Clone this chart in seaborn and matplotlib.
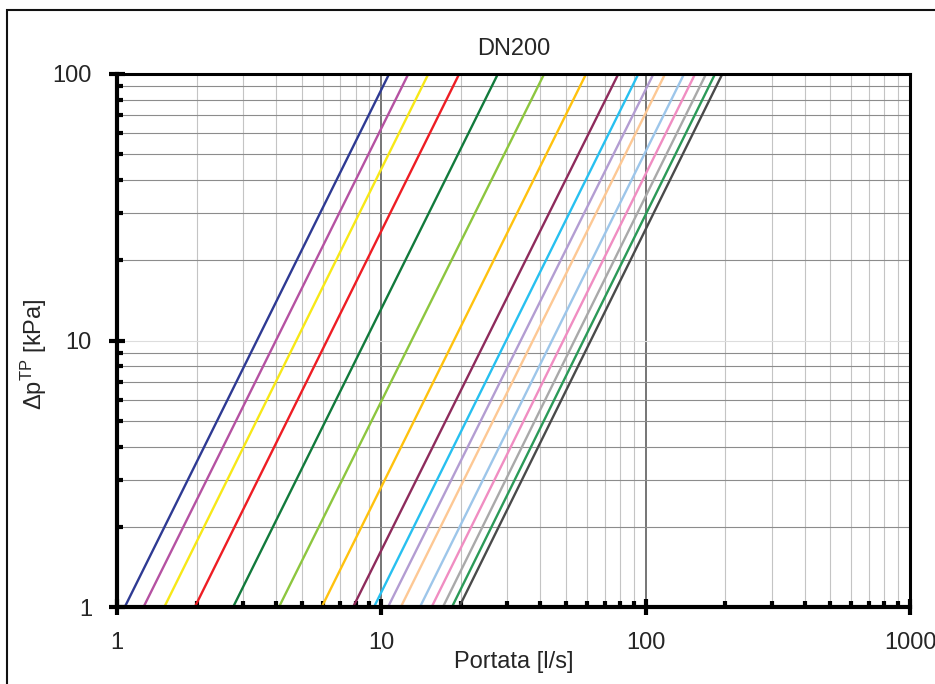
"""
Curve perdita di carico DN200 (Δp vs portata, scala log-log)
"""

import numpy as np
import pandas as pd
import seaborn as sns
import matplotlib.pyplot as plt
from matplotlib.ticker import LogLocator, FuncFormatter, NullFormatter
from matplotlib.patches import Rectangle

# ── DATI ──
# portata [l/s] a Δp = 1 kPa e a Δp = 100 kPa, una curva per ogni posizione
portata_1kpa = [1.07, 1.26, 1.51, 1.97, 2.75, 4.10, 5.95, 7.82,
                9.38, 10.6, 11.85, 14.0, 15.5, 17.1, 18.5, 19.7]
portata_100kpa = [10.7, 12.65, 15.06, 19.7, 27.6, 41.3, 59.5, 78.8,
                  93.8, 107.0, 118.4, 139.7, 153.8, 169.2, 183.0, 195.0]
dp_estremi = [1, 100]

colori = ["#2E3A93", "#B552A2", "#F7E817", "#EE1D24", "#127A3C", "#8DC63F",
          "#FFC20E", "#8E2B5C", "#27C0F0", "#B39DD2", "#FDC894", "#9DC6EA",
          "#F08DC2", "#A9A9A9", "#2B9A58", "#4A4A4A"]

x_ticks = [1, 10, 100, 1000]
y_ticks = [1, 10, 100]

righe = []
for i, (q1, q100) in enumerate(zip(portata_1kpa, portata_100kpa)):
    for q, dp in zip([q1, q100], dp_estremi):
        righe.append({"curva": i, "portata": q, "dp": dp})
df = pd.DataFrame(righe)

# ── STILE ──
sns.set_style("white")
plt.rcParams["font.family"] = ["Liberation Sans", "DejaVu Sans"]
plt.rcParams["mathtext.default"] = "regular"
FS = 17

fig = plt.figure(figsize=(9.35, 6.84), dpi=100)
ax = fig.add_axes([117 / 935, 1 - 607 / 684, 793 / 935, 533 / 684])

ax.set_xscale("log")
ax.set_yscale("log")

sns.lineplot(data=df, x="portata", y="dp", hue="curva", palette=colori,
             legend=False, lw=1.7, estimator=None, sort=False, ax=ax, zorder=3)

ax.set_xlim(x_ticks[0], x_ticks[-1])
ax.set_ylim(y_ticks[0], y_ticks[-1])

ax.xaxis.set_major_locator(LogLocator(base=10))
ax.yaxis.set_major_locator(LogLocator(base=10))
ax.xaxis.set_minor_locator(LogLocator(base=10, subs=np.arange(2, 10)))
ax.yaxis.set_minor_locator(LogLocator(base=10, subs=np.arange(2, 10)))
fmt = FuncFormatter(lambda v, p: f"{v:g}")
ax.xaxis.set_major_formatter(fmt)
ax.yaxis.set_major_formatter(fmt)
ax.xaxis.set_minor_formatter(NullFormatter())
ax.yaxis.set_minor_formatter(NullFormatter())

# griglia
ax.yaxis.grid(True, which="major", color="#DDDDDD", lw=0.8, zorder=0)
ax.yaxis.grid(True, which="minor", color="#8C8C8C", lw=0.8, zorder=0)
ax.xaxis.grid(True, which="major", color="#505050", lw=1.1, zorder=0)
ax.xaxis.grid(True, which="minor", color="#C4C4C4", lw=0.8, zorder=0)
ax.set_axisbelow(True)

# assi e tacche
for lato, w in {"left": 3.0, "bottom": 3.0, "top": 2.2, "right": 2.2}.items():
    ax.spines[lato].set_visible(True)
    ax.spines[lato].set_color("black")
    ax.spines[lato].set_linewidth(w)
    ax.spines[lato].set_zorder(5)

ax.tick_params(which="major", direction="inout", length=11, width=3,
               color="black", labelsize=FS, pad=12.5, top=False, right=False)
ax.tick_params(which="minor", direction="in", length=4, width=3,
               color="black", top=False, right=False)
ax.tick_params(axis="x", which="both", bottom=True)
ax.tick_params(axis="y", which="both", left=True)

ax.set_title("DN200", fontsize=17, pad=14)
ax.set_xlabel("Portata [l/s]", fontsize=FS, labelpad=-2)
ax.set_ylabel("Δp$^{TP}$ [kPa]", fontsize=FS)
ax.yaxis.set_label_coords(-0.086, 0.475)

# cornice esterna
fig.patches.append(Rectangle((7 / 935, -0.05), 1.1, 1.05 - 9.5 / 684,
                             transform=fig.transFigure, fill=False,
                             edgecolor="#111111", lw=1.5, clip_on=False))

fig.savefig("out.png", dpi=100, facecolor="white")
